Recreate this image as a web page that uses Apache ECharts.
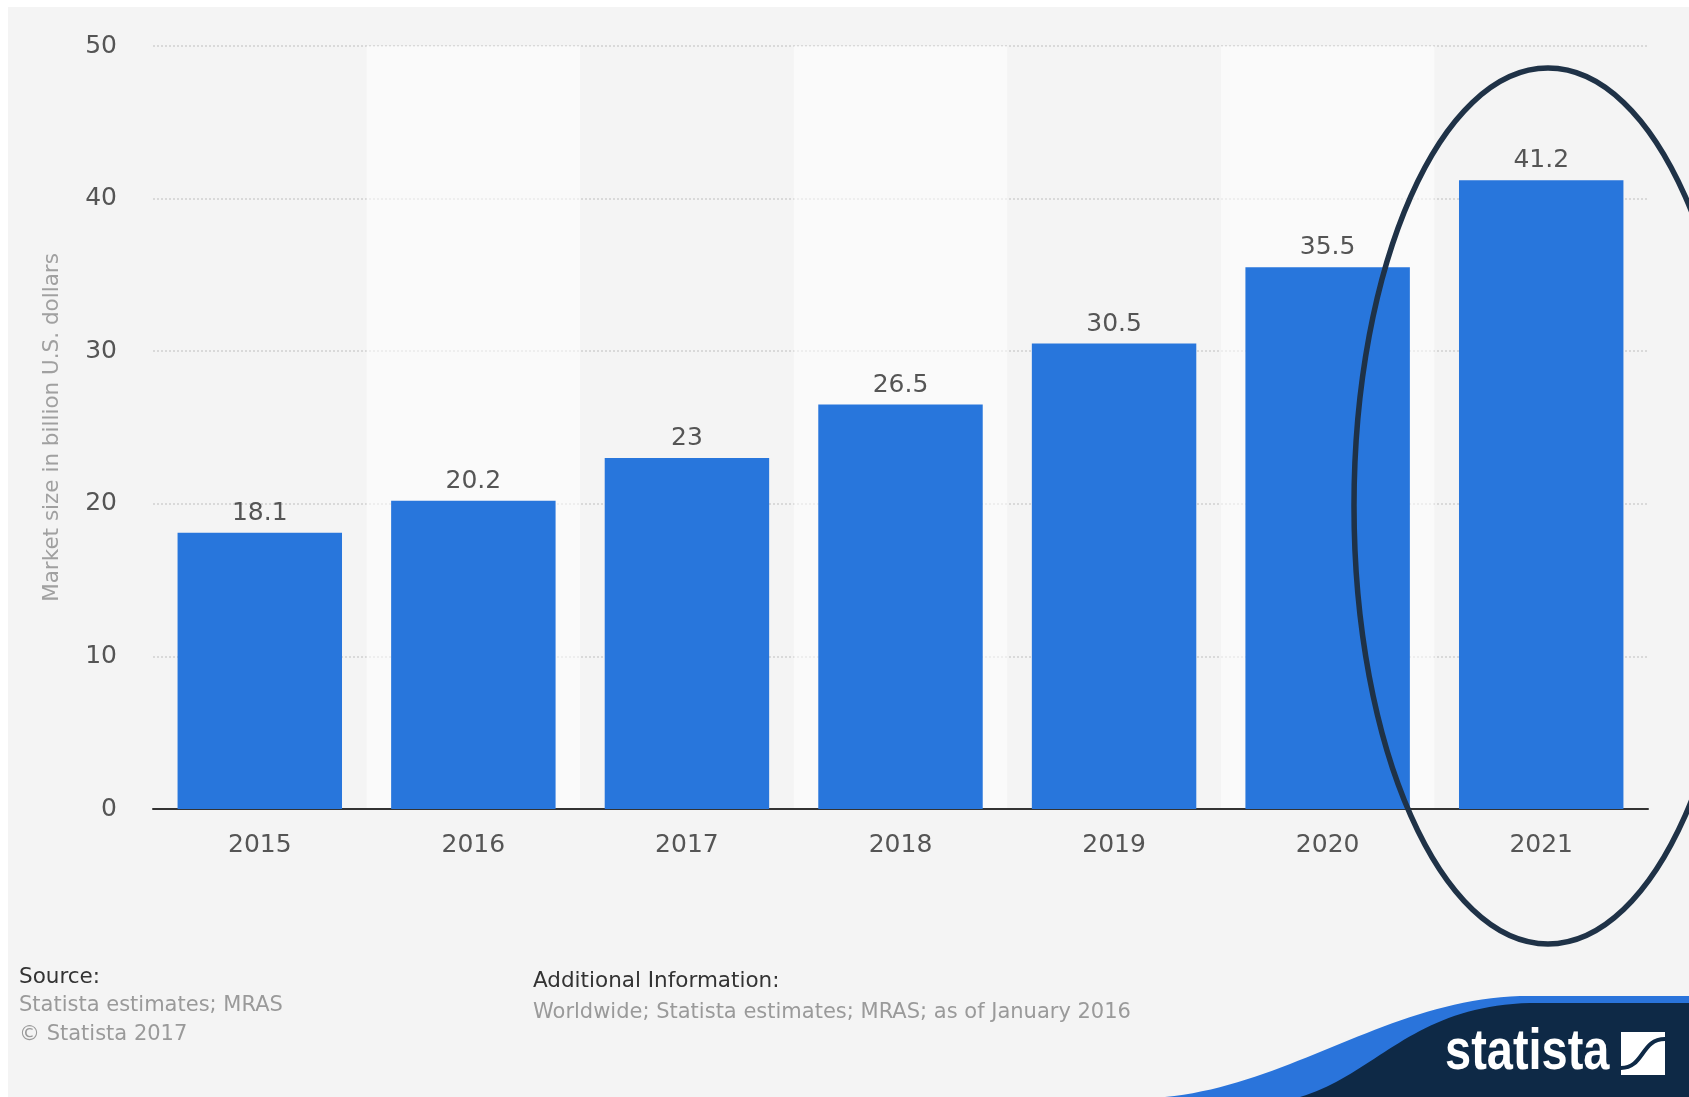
<!DOCTYPE html>
<html>
<head>
<meta charset="utf-8">
<script src="https://cdn.jsdelivr.net/npm/echarts@6/dist/echarts.min.js"></script>
<style>
  html, body { margin: 0; padding: 0; background: #ffffff; }
  #chart { width: 1689px; height: 1097px; }
</style>
</head>
<body>
<div id="chart"></div>
<script>
// Market size by year, billion U.S. dollars
const years = ['2015', '2016', '2017', '2018', '2019', '2020', '2021'];
const marketSize = [18.1, 20.2, 23, 26.5, 30.5, 35.5, 41.2];
const yTicks = { min: 0, max: 50, interval: 10 };

const FONT = '"DejaVu Sans", "Liberation Sans", sans-serif';
const chart = echarts.init(document.getElementById('chart'), null, { renderer: 'canvas' });

// Sample a cubic Bezier into polygon points for the brand wave
function wave(p0, p1, p2, p3, tail) {
  const pts = [];
  for (let i = 0; i <= 40; i++) {
    const t = i / 40, u = 1 - t;
    pts.push([
      u * u * u * p0[0] + 3 * u * u * t * p1[0] + 3 * u * t * t * p2[0] + t * t * t * p3[0],
      u * u * u * p0[1] + 3 * u * u * t * p1[1] + 3 * u * t * t * p2[1] + t * t * t * p3[1]
    ]);
  }
  return pts.concat(tail);
}

const option = {
  animation: false,
  backgroundColor: '#ffffff',
  grid: { left: 153, right: 41, top: 46, bottom: 288, containLabel: false },
  xAxis: {
    type: 'category',
    data: years,
    boundaryGap: true,
    axisLine: { show: true, lineStyle: { color: '#333333', width: 2 } },
    axisTick: { show: false },
    axisLabel: { color: '#555555', fontSize: 25, fontFamily: FONT, margin: 24 },
    splitArea: { show: true, areaStyle: { color: ['rgba(0,0,0,0)', 'rgba(255,255,255,0.55)'] } },
    z: 3
  },
  yAxis: {
    type: 'value',
    min: yTicks.min,
    max: yTicks.max,
    interval: yTicks.interval,
    name: 'Market size in billion U.S. dollars',
    nameLocation: 'middle',
    nameRotate: 90,
    nameGap: 90,
    nameTextStyle: { color: '#a0a0a0', fontSize: 21.5, fontFamily: FONT },
    axisLine: { show: false },
    axisTick: { show: false },
    axisLabel: { color: '#555555', fontSize: 25, fontFamily: FONT, margin: 36 },
    splitLine: { show: true, lineStyle: { color: '#cfcfcf', width: 1.5, type: [2, 2] } }
  },
  series: [{
    type: 'bar',
    data: marketSize,
    barCategoryGap: '23%',
    itemStyle: { color: '#2876dc' },
    label: {
      show: true,
      position: 'top',
      distance: 7,
      color: '#555555',
      fontSize: 25,
      fontFamily: FONT
    },
    z: 4
  }],
  graphic: [
    // page panel
    {
      type: 'rect', z: -10, silent: true,
      shape: { x: 8, y: 7, width: 1689, height: 1097 },
      style: { fill: '#f4f4f4' }
    },
    // highlight ring around the last year
    {
      type: 'ellipse', z: 100, silent: true,
      shape: { cx: 1548, cy: 506, rx: 194, ry: 438 },
      style: { fill: 'none', stroke: '#1f3247', lineWidth: 5.5 }
    },
    // footer: source
    {
      type: 'text', z: 10, silent: true, x: 19, y: 977,
      style: { text: 'Source:', fill: '#333333', font: '21.5px ' + FONT, textVerticalAlign: 'middle' }
    },
    {
      type: 'text', z: 10, silent: true, x: 19, y: 1006,
      style: { text: 'Statista estimates; MRAS', fill: '#9a9a9a', font: '21px ' + FONT, textVerticalAlign: 'middle' }
    },
    {
      type: 'text', z: 10, silent: true, x: 19, y: 1035,
      style: { text: '© Statista 2017', fill: '#9a9a9a', font: '21px ' + FONT, textVerticalAlign: 'middle' }
    },
    // footer: additional information
    {
      type: 'text', z: 10, silent: true, x: 533, y: 981,
      style: { text: 'Additional Information:', fill: '#333333', font: '21.5px ' + FONT, textVerticalAlign: 'middle' }
    },
    {
      type: 'text', z: 10, silent: true, x: 533, y: 1013,
      style: { text: 'Worldwide; Statista estimates; MRAS; as of January 2016', fill: '#9a9a9a', font: '21px ' + FONT, textVerticalAlign: 'middle' }
    },
    // brand band: blue edge and navy body
    {
      type: 'polygon', z: 20, silent: true,
      shape: { points: wave([1165, 1097], [1290, 1085], [1390, 1000], [1520, 996], [[1689, 996], [1689, 1097]]) },
      style: { fill: '#2a74db' }
    },
    {
      type: 'polygon', z: 21, silent: true,
      shape: { points: wave([1300, 1097], [1375, 1075], [1412, 1006], [1530, 1003], [[1689, 1003], [1689, 1097]]) },
      style: { fill: '#0e2946' }
    },
    {
      type: 'text', z: 22, silent: true, x: 1445, y: 1053, scaleX: 0.81, scaleY: 1,
      style: { text: 'statista', fill: '#ffffff', font: 'bold 58px "Liberation Sans", sans-serif', textVerticalAlign: 'middle' }
    },
    {
      type: 'rect', z: 22, silent: true,
      shape: { x: 1621, y: 1032, width: 44, height: 43 },
      style: { fill: '#ffffff' }
    },
    {
      type: 'bezierCurve', z: 23, silent: true,
      shape: { x1: 1621, y1: 1068, cpx1: 1644, cpy1: 1068, cpx2: 1641, cpy2: 1039, x2: 1665, y2: 1039 },
      style: { fill: 'none', stroke: '#0e2946', lineWidth: 4 }
    }
  ]
};

chart.setOption(option);
</script>
</body>
</html>
